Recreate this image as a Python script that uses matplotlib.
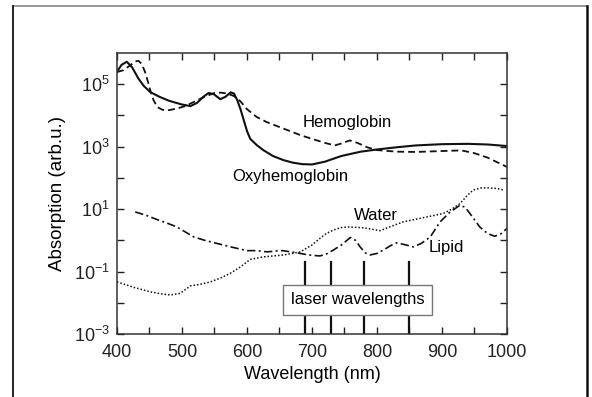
import numpy as np
import matplotlib
matplotlib.use("Agg")
import matplotlib.pyplot as plt
from matplotlib.lines import Line2D
from matplotlib.ticker import FixedLocator, FixedFormatter

plt.rcParams['font.family'] = ['Liberation Sans', 'DejaVu Sans']
plt.rcParams['mathtext.fontset'] = 'custom'
plt.rcParams['mathtext.rm'] = 'Liberation Sans'

# valeurs (log10 de l'absorption)
oxy_wl = [400, 407, 415, 423, 433, 441, 451, 465, 480, 500, 513, 523, 533, 541, 549,
          559, 567, 575, 580, 585, 590, 595, 600, 605, 615, 625, 640, 656, 670, 685,
          700, 720, 745, 775, 800, 830, 860, 900, 940, 970, 1000]
oxy_log = [5.40, 5.62, 5.72, 5.55, 5.18, 4.95, 4.75, 4.60, 4.47, 4.35, 4.30, 4.40, 4.60, 4.72, 4.68,
           4.52, 4.60, 4.74, 4.70, 4.49, 4.20, 3.85, 3.50, 3.25, 3.05, 2.89, 2.70, 2.57, 2.49, 2.44,
           2.43, 2.52, 2.70, 2.84, 2.91, 2.98, 3.04, 3.08, 3.09, 3.07, 3.02]

hb_wl = [400, 410, 420, 428, 433, 438, 443, 448, 452, 456, 462, 470, 480, 492, 505, 520, 535,
         550, 560, 570, 580, 590, 600, 615, 630, 656, 682, 700, 720, 735, 745, 758, 770, 785,
         800, 830, 860, 900, 930, 950, 970, 1000]
hb_log = [5.39, 5.45, 5.60, 5.73, 5.75, 5.65, 5.40, 5.05, 4.75, 4.50, 4.27, 4.18, 4.17, 4.22, 4.30, 4.45, 4.60,
          4.72, 4.73, 4.70, 4.62, 4.45, 4.20, 3.95, 3.79, 3.58, 3.37, 3.25, 3.12, 3.04, 3.10, 3.20, 3.12, 2.98,
          2.89, 2.84, 2.83, 2.86, 2.88, 2.79, 2.65, 2.35]

eau_wl = [400, 425, 451, 470, 482, 497, 505, 513, 530, 544, 560, 574, 590, 605, 625, 656, 682,
          700, 712, 722, 733, 745, 758, 780, 805, 822, 840, 870, 902, 915, 928, 938, 948, 960,
          970, 985, 995]
eau_log = [-1.33, -1.50, -1.65, -1.72, -1.75, -1.70, -1.58, -1.46, -1.40, -1.33, -1.20, -1.06, -0.85, -0.61, -0.53, -0.47, -0.37,
           -0.15, 0.06, 0.22, 0.33, 0.41, 0.43, 0.40, 0.31, 0.45, 0.59, 0.72, 0.86, 1.00, 1.18, 1.42, 1.61, 1.68,
           1.68, 1.66, 1.61]

lip_wl = [428, 445, 461, 476, 492, 505, 518, 535, 554, 577, 600, 615, 631, 645, 655, 667, 677,
          690, 700, 712, 722, 733, 745, 759, 767, 774, 782, 789, 800, 810, 820, 830, 843, 856,
          868, 882, 897, 912, 928, 936, 943, 958, 970, 981, 990, 1000]
lip_log = [0.91, 0.80, 0.67, 0.56, 0.43, 0.27, 0.11, 0.00, -0.10, -0.22, -0.33, -0.33, -0.37, -0.34, -0.33, -0.37, -0.40,
           -0.45, -0.48, -0.50, -0.44, -0.31, -0.15, 0.09, 0.00, -0.21, -0.40, -0.47, -0.42, -0.31, -0.18, -0.08, -0.14, -0.21,
           -0.10, 0.11, 0.59, 0.90, 1.13, 1.05, 0.86, 0.43, 0.22, 0.13, 0.20, 0.38]

lasers = [690, 730, 780, 850]

x_ticks = [400, 500, 600, 700, 800, 900, 1000]
y_ticks = [1e-3, 1e-1, 1e1, 1e3, 1e5]
y_labels = ['$10^{-3}$', '$10^{-1}$', '$10^{1}$', '$10^{3}$', '$10^{5}$']

fig = plt.figure(figsize=(5.92, 3.97), dpi=100)
ax = fig.add_axes([117/592, 1 - 334/397, 390/592, 281/397])

noir = '#111111'
ax.plot(oxy_wl, 10**np.array(oxy_log), color=noir, lw=1.5, ls='-')
ax.plot(hb_wl, 10**np.array(hb_log), color=noir, lw=1.3, ls=(0, (3.8, 2.2)))
ax.plot(eau_wl, 10**np.array(eau_log), color=noir, lw=1.1, ls=(0, (1, 1.3)))
ax.plot(lip_wl, 10**np.array(lip_log), color=noir, lw=1.2, ls=(0, (5, 2, 1.2, 2)))

for l in lasers:
    ax.plot([l, l], [1e-3, 0.2], color=noir, lw=1.6)

ax.text(770, 0.0127, 'laser wavelengths', fontsize=12, ha='center', va='center',
        bbox=dict(boxstyle='square,pad=0.45', fc='white', ec='#777777', lw=1))

ax.text(686, 10**3.76, 'Hemoglobin', fontsize=12, va='center')
ax.text(578, 10**2.05, 'Oxyhemoglobin', fontsize=12, va='center')
ax.text(765, 10**0.79, 'Water', fontsize=12, va='center')
ax.text(879, 10**-0.24, 'Lipid', fontsize=12, va='center')

ax.set_yscale('log')
ax.set_xlim(400, 1000)
ax.set_ylim(1e-3, 1e6)
ax.xaxis.set_major_locator(FixedLocator(x_ticks))
ax.xaxis.set_minor_locator(FixedLocator([450, 550, 650, 750, 850, 950]))
ax.yaxis.set_major_locator(FixedLocator(y_ticks))
ax.yaxis.set_major_formatter(FixedFormatter(y_labels))
ax.yaxis.set_minor_locator(FixedLocator([1e-2, 1e0, 1e2, 1e4]))
ax.yaxis.set_minor_formatter(FixedFormatter([]))
ax.tick_params(which='both', direction='in', top=True, right=True, length=5, width=1,
               labelsize=13, colors='#222222')
ax.tick_params(axis='x', pad=7)
ax.tick_params(axis='y', pad=5)
for s in ax.spines.values():
    s.set_linewidth(1.1)
    s.set_color('#333333')

ax.set_xlabel('Wavelength (nm)', fontsize=13, labelpad=4)
ax.set_ylabel('Absorption (arb.u.)', fontsize=13.5, labelpad=6)

# cadre autour de la figure
fig.add_artist(Line2D([13/592, 587/592], [1 - 6/397, 1 - 6/397], color='#888888', lw=1.2))
fig.add_artist(Line2D([13/592, 13/592], [0, 1 - 6/397], color='#222222', lw=1.4))
fig.add_artist(Line2D([587/592, 587/592], [0, 1 - 6/397], color='#111111', lw=1.8))

fig.savefig('out.png', dpi=100)
